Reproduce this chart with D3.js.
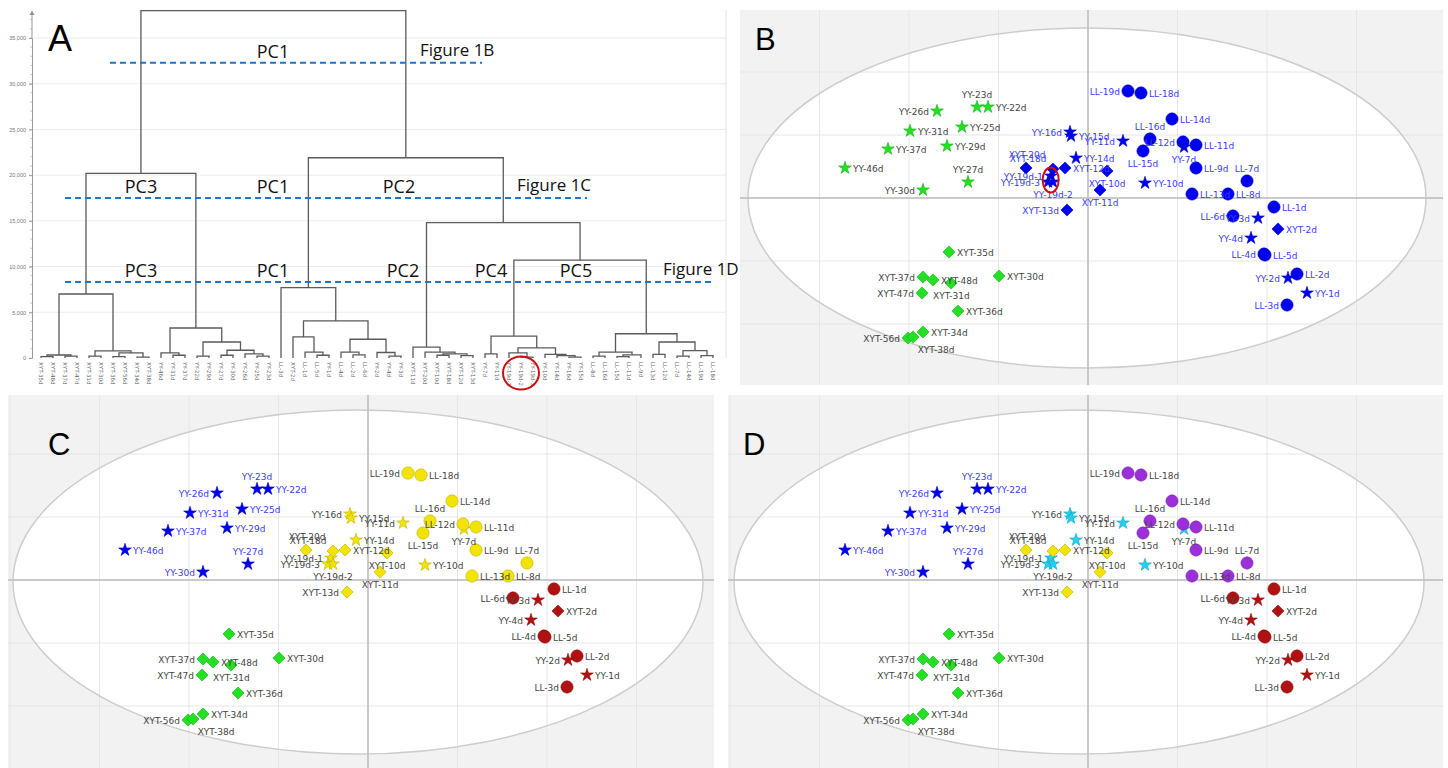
<!DOCTYPE html>
<html>
<head>
<meta charset="utf-8">
<script src="https://cdn.jsdelivr.net/npm/d3@7"></script>
<style>
  body { margin: 0; background: white; }
</style>
</head>
<body>
<div id="fig"></div>
<script>
// ---- dendrogram (panel A): [merge height, left, right], leaves are sample names ----
var lateXYT = [7000, [330, [150, "XYT-35d", "XYT-48d"], [200, "XYT-37d", "XYT-47d"]],
                     [770, [200, "XYT-31d", "XYT-30d"], [550, [150, "XYT-36d", "XYT-56d"], [100, "XYT-34d", "XYT-38d"]]]];
var lateYY = [3280, [550, "YY-46d", [300, "YY-31d", "YY-37d"]],
                    [1750, [200, "YY-22d", "YY-29d"], [850, [300, "YY-27d", "YY-30d"], [450, "YY-26d", [200, "YY-25d", "YY-23d"]]]]];
var earlyAll = [7700, "LL-3d", [4050, [2300, "XYT-2d", [650, "LL-1d", [300, "LL-5d", "YY-1d"]]],
                                      [2050, [650, "LL-4d", [350, "LL-2d", "LL-6d"]], [600, "YY-2d", [200, "YY-4d", "YY-3d"]]]]];
var midXYT = [1200, "XYT-11d", [650, "XYT-20d", [450, [300, "XYT-10d", "XYT-18d"], [250, "XYT-12d", "XYT-13d"]]]];
var midYY = [2400, [450, "YY-7d", "YY-11d"],
                   [1100, [550, "YY-19d-1", [100, "YY-19d-2", "YY-19d-3"]], [400, "YY-10d", [250, "YY-14d", [100, "YY-16d", "YY-15d"]]]]];
var midLL = [2650, [650, [200, "LL-8d", "LL-16d"], [350, [150, "LL-15d", "LL-11d"], "LL-9d"]],
                   [1750, [400, "LL-13d", "LL-12d"], [800, [200, "LL-7d", "LL-14d"], [250, "LL-19d", "LL-18d"]]]];
var rootTree = [38000, [20200, lateXYT, lateYY], [21900, earlyAll, [14800, midXYT, [10700, midYY, midLL]]]];

var yTicks = [0, 5000, 10000, 15000, 20000, 25000, 30000, 35000];
var cutHeights = [32300, 17500, 8300];
var cutTags = [["PC1"], ["PC3", "PC1", "PC2"], ["PC3", "PC1", "PC2", "PC4", "PC5"]];
var cutFigures = ["Figure 1B", "Figure 1C", "Figure 1D"];

// ---- PCA scores (panels B, C, D) ----
var sampleNames = ["YY-23d","YY-22d","YY-26d","YY-31d","YY-25d","YY-37d","YY-29d","YY-46d","YY-27d","YY-30d",
  "XYT-35d","XYT-37d","XYT-48d","XYT-31d","XYT-47d","XYT-30d","XYT-36d","XYT-56d","XYT-38d","XYT-34d",
  "YY-16d","YY-15d","YY-11d","YY-14d","YY-19d-1","YY-19d-3","YY-19d-2","YY-7d","YY-10d",
  "XYT-20d","XYT-18d","XYT-12d","XYT-10d","XYT-11d","XYT-13d",
  "LL-19d","LL-18d","LL-14d","LL-16d","LL-15d","LL-12d","LL-11d","LL-9d","LL-7d","LL-13d","LL-8d",
  "LL-1d","LL-6d","YY-3d","XYT-2d","YY-4d","LL-4d","LL-5d","LL-2d","YY-2d","YY-1d","LL-3d"];
var t1 = [-11.1,-10.0,-15.1,-17.8,-12.6,-20.0,-14.1,-24.3,-12.0,-16.5,
  -13.9,-16.5,-15.5,-13.7,-16.6,-8.9,-13.0,-18.0,-17.5,-16.5,
  -1.8,-1.7,3.5,-1.2,-3.7,-4.0,-3.5,9.6,5.7,
  -6.2,-3.5,-2.3,1.9,1.2,-2.1,
  4.0,5.3,8.4,6.2,5.5,9.5,10.8,10.8,15.9,10.4,14.0,
  18.6,14.5,17.0,19.0,16.3,17.6,17.7,20.9,20.0,21.9,19.9];
var t2 = [9.1,9.1,8.7,6.7,7.1,4.9,5.2,3.0,1.6,0.8,
  -5.4,-7.9,-8.2,-8.5,-9.5,-7.8,-11.3,-14.0,-13.9,-13.4,
  6.6,6.2,5.7,4.0,2.2,1.6,1.6,5.1,1.5,
  3.0,2.9,3.0,2.7,0.8,-1.2,
  10.7,10.5,7.9,5.9,4.7,5.6,5.3,3.0,1.7,0.4,0.4,
  -0.9,-1.8,-2.0,-3.1,-4.0,-5.6,-5.7,-7.6,-8.0,-9.5,-10.7];
var sampleGroup = ["lY","lY","lY","lY","lY","lY","lY","lY","lY","lY",
  "lX","lX","lX","lX","lX","lX","lX","lX","lX","lX",
  "mY","mY","mY","mY","mY","mY","mY","mY","mY",
  "mX","mX","mX","mX","mX","mX",
  "mL","mL","mL","mL","mL","mL","mL","mL","mL","mL","mL",
  "e","e","e","e","e","e","e","e","e","e","e"];

// ---- styles / layout ----
var GREEN = "#22e022", BLUE = "#0000f0", YELLOW = "#f2e400", RED = "#b01212", PURPLE = "#9b30d9", CYAN = "#22d0f0";
var colorsB = {lY: GREEN, lX: GREEN, mY: BLUE, mX: BLUE, mL: BLUE, e: BLUE};
var colorsC = {lY: BLUE, lX: GREEN, mY: YELLOW, mX: YELLOW, mL: YELLOW, e: RED};
var colorsD = {lY: BLUE, lX: GREEN, mY: CYAN, mX: YELLOW, mL: PURPLE, e: RED};

// where each point label sits: r / l / a(bove) / b(elow) or [dx, dy, anchor]
var labelPos = {
  "YY-23d": "a", "YY-26d": "l", "YY-27d": "a", "YY-30d": "l",
  "XYT-37d": "l", "XYT-31d": [-18, 15.5, "start"], "XYT-47d": "l", "XYT-56d": "l", "XYT-38d": [23, 15.5, "middle"],
  "YY-16d": "l", "YY-11d": "l", "YY-19d-1": "l", "YY-19d-3": "l", "YY-19d-2": "b", "YY-7d": "b",
  "XYT-20d": [1, -10.5, "middle"], "XYT-18d": [-25, -7.5, "middle"], "XYT-10d": "b", "XYT-11d": "b", "XYT-13d": "l",
  "LL-19d": "l", "LL-16d": "a", "LL-15d": "b", "LL-12d": "l", "LL-7d": "a",
  "LL-6d": "l", "YY-3d": "l", "YY-4d": "l", "LL-4d": "l", "YY-2d": "l", "LL-3d": "l"
};

var W = 1448, H = 768;
var svg = d3.select("#fig").append("svg")
  .attr("width", W).attr("height", H)
  .style("font-family", "'DejaVu Sans', sans-serif");
svg.append("rect").attr("width", W).attr("height", H).attr("fill", "white");

// ================= panel A =================
function drawDendrogram()
{
  var gA = svg.append("g");
  var tree = d3.hierarchy(rootTree, function(d){ return Array.isArray(d) ? d.slice(1) : null; });
  var leafNames = tree.leaves().map(function(d){ return d.data; });
  var xA = d3.scalePoint().domain(leafNames).range([41, 713]);
  var yA = d3.scaleLinear().domain([0, 35000]).range([358, 38]);

  tree.eachAfter(function(n){
    if (n.children) { n.px = d3.mean(n.children, function(c){ return c.px; }); n.h = n.data[0]; }
    else { n.px = xA(n.data); n.h = 0; }
  });

  // grid
  gA.selectAll("line.grid").data(yTicks.slice(1)).join("line")
    .attr("x1", 33).attr("x2", 726)
    .attr("y1", function(d){ return yA(d); }).attr("y2", function(d){ return yA(d); })
    .attr("stroke", "#ececec").attr("stroke-width", 1);
  gA.append("line").attr("x1", 726).attr("x2", 726).attr("y1", 10).attr("y2", 358)
    .attr("stroke", "#e4e4e4");

  // axis
  var ax = gA.append("g").attr("transform", "translate(32,0)")
    .call(d3.axisLeft(yA).tickValues(yTicks).tickSize(3).tickFormat(d3.format(",")));
  ax.select(".domain").attr("stroke", "#999");
  ax.selectAll(".tick line").attr("stroke", "#999");
  ax.selectAll("text").attr("font-size", 5.5).attr("fill", "#777")
    .attr("font-family", "'Liberation Sans', sans-serif");
  gA.selectAll("line.minor").data(d3.range(0, 38000, 1000)).join("line")
    .attr("x1", 30).attr("x2", 32)
    .attr("y1", function(d){ return yA(d); }).attr("y2", function(d){ return yA(d); })
    .attr("stroke", "#aaa").attr("stroke-width", 0.6);
  gA.append("line").attr("x1", 32).attr("x2", 32).attr("y1", yA(35000)).attr("y2", 12).attr("stroke", "#999");
  gA.append("path").attr("d", "M29.5,15L32,10L34.5,15Z").attr("fill", "#999");

  // links
  gA.selectAll("path.link").data(tree.descendants().filter(function(n){ return n.children; })).join("path")
    .attr("d", function(n){
      var a = n.children[0], b = n.children[1];
      return "M" + a.px + "," + yA(a.h) + "V" + yA(n.h) + "H" + b.px + "V" + yA(b.h);
    })
    .attr("fill", "none").attr("stroke", "#5a5a5a").attr("stroke-width", 1.3);

  // leaf labels
  gA.selectAll("text.leaf").data(leafNames).join("text")
    .attr("transform", function(d){ return "translate(" + (xA(d) - 2) + ",362) rotate(90)"; })
    .attr("font-size", 5.5).attr("fill", "#666")
    .text(function(d){ return d; });

  // red ring round the YY-19d replicates
  var ringX = d3.mean(["YY-19d-1", "YY-19d-2", "YY-19d-3"], function(d){ return xA(d); });
  gA.append("ellipse").attr("cx", ringX).attr("cy", 373).attr("rx", 18).attr("ry", 16.5)
    .attr("fill", "none").attr("stroke", "#cc1010").attr("stroke-width", 2);

  // cut lines
  var cutX = [[110, 482], [65, 587], [65, 715]];
  var tagX = [[273], [141, 273, 399], [141, 273, 403, 491, 576]];
  var figX = [420, 517, 663];
  for (var c = 0; c < cutHeights.length; c++)
  {
    var cy = yA(cutHeights[c]);
    gA.append("line").attr("x1", cutX[c][0]).attr("x2", cutX[c][1]).attr("y1", cy).attr("y2", cy)
      .attr("stroke", "#1f74c8").attr("stroke-width", 2).attr("stroke-dasharray", "6,4");
    for (var p = 0; p < cutTags[c].length; p++)
    {
      gA.append("text").attr("x", tagX[c][p]).attr("y", cy - 5).attr("text-anchor", "middle")
        .attr("font-family", "'Open Sans', sans-serif").attr("font-size", 18).attr("fill", "#111")
        .text(cutTags[c][p]);
    }
    gA.append("text").attr("x", figX[c]).attr("y", cy - 7)
      .attr("font-family", "'Open Sans', sans-serif").attr("font-size", 17).attr("fill", "#111")
      .text(cutFigures[c]);
  }

  gA.append("text").attr("x", 48).attr("y", 51).attr("font-family", "'Liberation Sans', sans-serif")
    .attr("font-size", 36).attr("fill", "black").text("A");
}

// ================= panels B, C, D =================
class ScorePlot {
  constructor(id, box, center, ell, colors, letter, ring)
  {
    this.id = id;
    this.box = box;
    this.ell = ell;       // Hotelling ellipse: [centre t1, centre t2, half-width t1, half-height t2]
    this.colors = colors;
    this.letter = letter;
    this.ring = ring;
    this.x = d3.scaleLinear().domain([(box[0] - center[0]) / 10, (box[2] - center[0]) / 10]).range([box[0], box[2]]);
    this.y = d3.scaleLinear().domain([(center[1] - box[1]) / 10, (center[1] - box[3]) / 10]).range([box[1], box[3]]);
    this.g = svg.append("g");
  }

  writeBase()
  {
    var b = this.box, x = this.x, y = this.y, g = this.g, e = this.ell;
    svg.append("clipPath").attr("id", this.id + "_clip").append("rect")
      .attr("x", b[0]).attr("y", b[1]).attr("width", b[2] - b[0]).attr("height", b[3] - b[1]);
    g.attr("clip-path", "url(#" + this.id + "_clip)");
    g.append("rect").attr("x", b[0]).attr("y", b[1]).attr("width", b[2] - b[0]).attr("height", b[3] - b[1])
      .attr("fill", "#f2f2f2");
    g.append("ellipse").attr("cx", x(e[0])).attr("cy", y(e[1]))
      .attr("rx", x(e[2]) - x(0)).attr("ry", y(0) - y(e[3])).attr("fill", "white");

    var gx = d3.range(-5, 6).map(function(k){ return k * 8.95; });
    var gy = d3.range(-4, 5).map(function(k){ return k * 6.3; });
    g.selectAll("line.gx").data(gx).join("line")
      .attr("x1", function(d){ return x(d); }).attr("x2", function(d){ return x(d); })
      .attr("y1", b[1]).attr("y2", b[3]).attr("stroke", "#e6e6e6").attr("stroke-width", 1);
    g.selectAll("line.gy").data(gy).join("line")
      .attr("y1", function(d){ return y(d); }).attr("y2", function(d){ return y(d); })
      .attr("x1", b[0]).attr("x2", b[2]).attr("stroke", "#e6e6e6").attr("stroke-width", 1);

    g.append("ellipse").attr("cx", x(e[0])).attr("cy", y(e[1]))
      .attr("rx", x(e[2]) - x(0)).attr("ry", y(0) - y(e[3]))
      .attr("fill", "none").attr("stroke", "#cdcdcd").attr("stroke-width", 1.5);

    g.append("line").attr("x1", x(0)).attr("x2", x(0)).attr("y1", b[1]).attr("y2", b[3])
      .attr("stroke", "#bdbdbd").attr("stroke-width", 1.5);
    g.append("line").attr("y1", y(0)).attr("y2", y(0)).attr("x1", b[0]).attr("x2", b[2])
      .attr("stroke", "#bdbdbd").attr("stroke-width", 1.5);
  }

  writePoints()
  {
    var x = this.x, y = this.y, colors = this.colors;
    var idx = d3.range(sampleNames.length);
    var shapeOf = function(name){
      if (name.indexOf("XYT") === 0) return "diamond";
      if (name.indexOf("YY") === 0) return "star";
      return "circle";
    };
    var sym = {
      circle: d3.symbol().type(d3.symbolCircle).size(118)(),
      star: d3.symbol().type(d3.symbolStar).size(50)(),
      diamond: d3.symbol().type(d3.symbolSquare).size(74)()
    };

    this.g.selectAll("path.pt").data(idx).join("path")
      .attr("transform", function(i){
        return "translate(" + x(t1[i]) + "," + y(t2[i]) + ")" + (shapeOf(sampleNames[i]) === "diamond" ? " rotate(45)" : "");
      })
      .attr("d", function(i){ return sym[shapeOf(sampleNames[i])]; })
      .attr("fill", function(i){ return colors[sampleGroup[i]]; })
      .attr("stroke", function(i){ return d3.color(colors[sampleGroup[i]]).darker(0.7); })
      .attr("stroke-width", 0.6);

    var place = function(i){
      var p = labelPos[sampleNames[i]] || "r";
      if (p === "r") return [8, 3.5, "start"];
      if (p === "l") return [-8, 3.5, "end"];
      if (p === "a") return [0, -9, "middle"];
      if (p === "b") return [0, 16, "middle"];
      return p;
    };
    this.g.selectAll("text.lab").data(idx).join("text")
      .attr("x", function(i){ return x(t1[i]) + place(i)[0]; })
      .attr("y", function(i){ return y(t2[i]) + place(i)[1]; })
      .attr("text-anchor", function(i){ return place(i)[2]; })
      .attr("font-size", 9)
      .attr("fill", function(i){ return colors[sampleGroup[i]] === BLUE ? "#3a3aff" : "#444"; })
      .text(function(i){ return sampleNames[i]; });

    if (this.ring)
    {
      var reps = idx.filter(function(i){ return sampleNames[i].indexOf("YY-19d") === 0; });
      this.g.append("ellipse")
        .attr("cx", x(d3.mean(reps, function(i){ return t1[i]; })))
        .attr("cy", y(d3.mean(reps, function(i){ return t2[i]; })))
        .attr("rx", 8).attr("ry", 12.5)
        .attr("fill", "none").attr("stroke", "#cc1010").attr("stroke-width", 2);
    }

    this.g.append("text").attr("x", this.box[0] + (this.letter === "C" ? 40 : 15))
      .attr("y", this.box[1] + (this.letter === "B" ? 40 : 60))
      .attr("font-family", "'Liberation Sans', sans-serif").attr("font-size", 31).attr("fill", "black")
      .text(this.letter);
  }
}

drawDendrogram();

var plotB = new ScorePlot("B", [740, 10, 1443, 385], [1088, 198], [-0.1, 0, 33.9, 17.0], colorsB, "B", true);
plotB.writeBase();
plotB.writePoints();

var plotC = new ScorePlot("C", [8, 395, 714, 768], [368, 580], [-1.0, -0.2, 34.5, 17.2], colorsC, "C", false);
plotC.writeBase();
plotC.writePoints();

var plotD = new ScorePlot("D", [728, 395, 1443, 768], [1088, 580], [-0.9, -0.2, 34.5, 17.2], colorsD, "D", false);
plotD.writeBase();
plotD.writePoints();
</script>
</body>
</html>
